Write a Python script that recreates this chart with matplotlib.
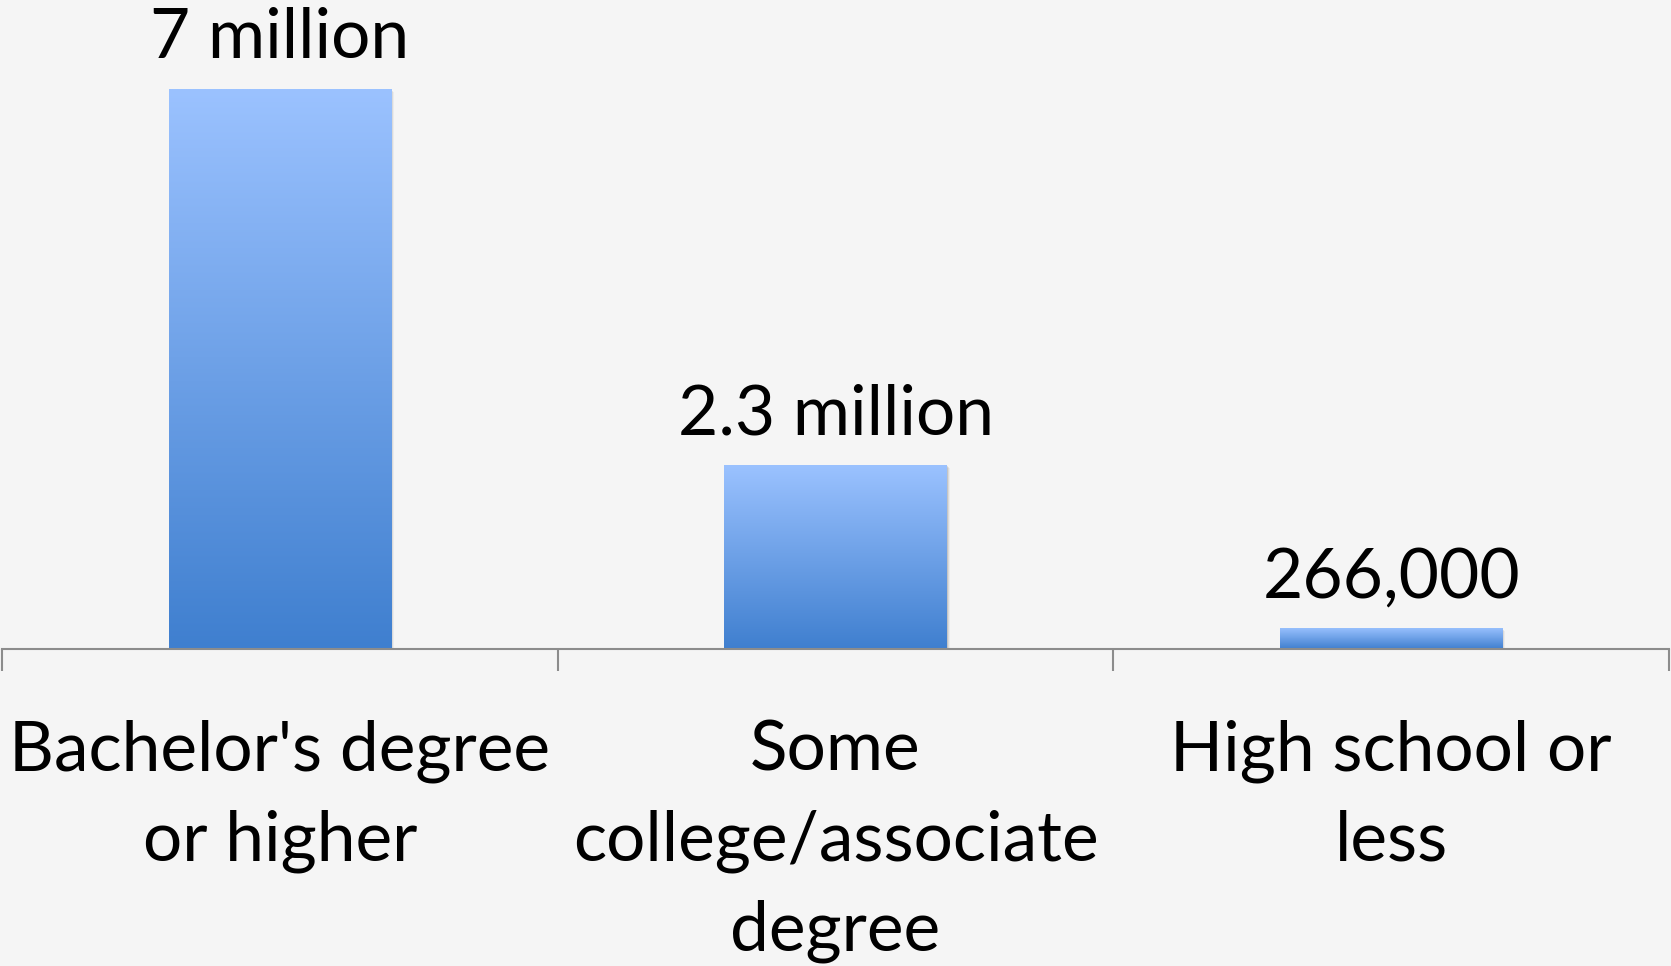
import numpy as np
import matplotlib
matplotlib.use("Agg")
import matplotlib.pyplot as plt
from matplotlib.colors import LinearSegmentedColormap
from matplotlib.patches import Rectangle
import matplotlib.transforms as mtransforms

categories = ["Bachelor's degree\nor higher",
              "Some\ncollege/associate\ndegree",
              "High school or\nless"]
values_millions = [7.0, 2.3, 0.266]
value_labels = ["7 million", "2.3 million", "266,000"]

BG = "#F5F5F5"
plt.rcParams['font.family'] = ['Lato', 'DejaVu Sans']

fig = plt.figure(figsize=(16.71, 9.66), dpi=100, facecolor=BG)
ax = fig.add_axes([2 / 1671, (966 - 649) / 966, 1667 / 1671, 640 / 966])
ax.set_facecolor(BG)

x = np.arange(len(categories))
bars = ax.bar(x, values_millions, width=0.4, color="none", zorder=3)
ax.set_xlim(-0.5, len(categories) - 0.5)
ax.set_ylim(0, 8)

grad_cmap = LinearSegmentedColormap.from_list("bar", ["#3F7FCF", "#9BC2FF"])
grad = np.linspace(0, 1, 256).reshape(-1, 1)

for bar in bars:
    x0, y0 = bar.get_x(), bar.get_y()
    w, h = bar.get_width(), bar.get_height()
    # soft drop shadow along right and bottom edges
    for i, a in enumerate([0.10, 0.07, 0.04]):
        off = mtransforms.offset_copy(ax.transData, fig=fig, x=(i + 1) * 1.0, y=-(i + 1) * 1.0, units='dots')
        ax.add_patch(Rectangle((x0, y0), w, h, transform=off, facecolor="black",
                               edgecolor="none", alpha=a, zorder=2))
    im = ax.imshow(grad, extent=[x0, x0 + w, y0, y0 + h], origin="lower",
                   cmap=grad_cmap, aspect="auto", zorder=3, interpolation="bilinear")
    im.set_clip_path(bar)

ax.set_xlim(-0.5, len(categories) - 0.5)
ax.set_ylim(0, 8)

for xi, v, lab in zip(x, values_millions, value_labels):
    ax.annotate(lab, (xi, v), xytext=(0, 22), textcoords="offset points",
                ha="center", va="baseline", fontsize=50, color="black")

for s in ["top", "right", "left"]:
    ax.spines[s].set_visible(False)
ax.spines["bottom"].set_color("#8C8C8C")
ax.spines["bottom"].set_linewidth(1.5)
ax.spines["bottom"].set_zorder(4)

ax.set_yticks([])
ax.set_xticks([-0.5, 0.5, 1.5, 2.5], minor=False)
ax.set_xticklabels([])
ax.tick_params(axis="x", length=16, width=1.5, color="#8C8C8C", direction="out")

for xi, cat in zip(x, categories):
    ax.annotate(cat, (xi, 0), xytext=(0, -51), textcoords="offset points",
                ha="center", va="top", fontsize=50, color="black", linespacing=1.52)

fig.savefig("out.png", dpi=100, facecolor=BG)
